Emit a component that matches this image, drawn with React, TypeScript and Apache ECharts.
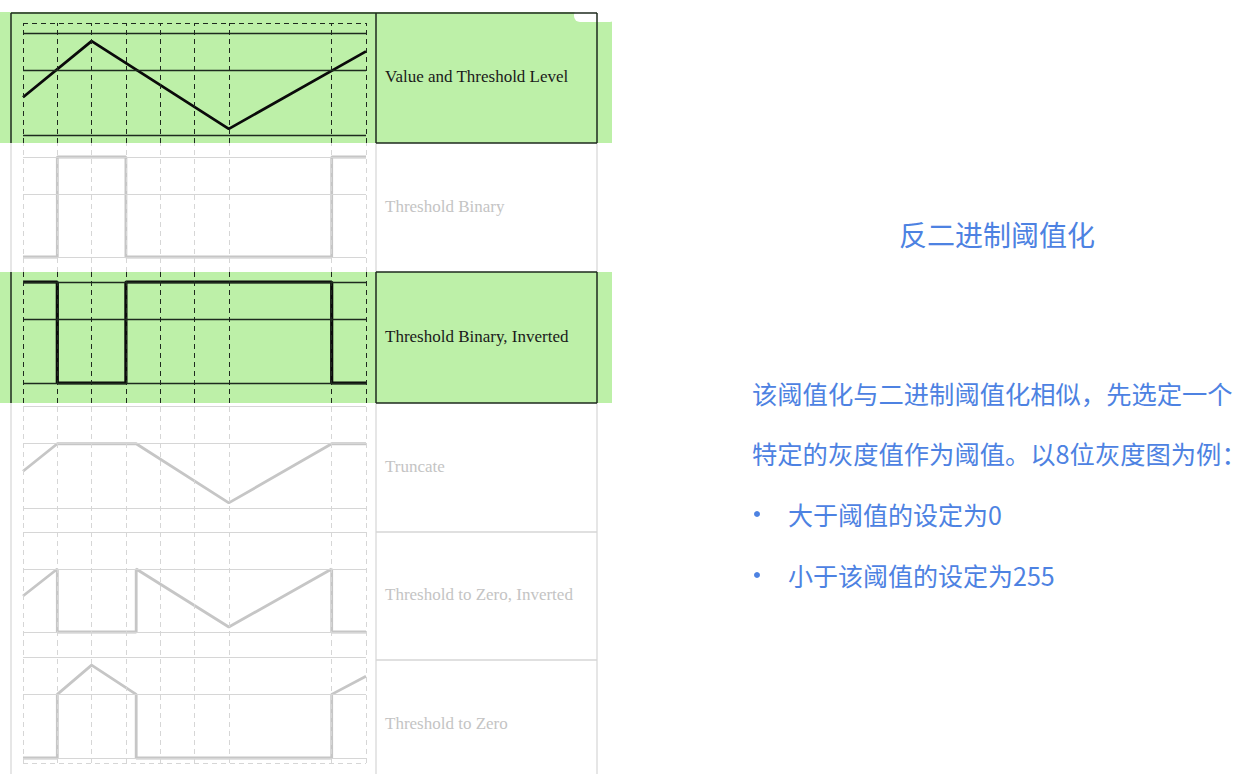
import React, { useEffect, useRef } from "react";
import * as echarts from "echarts";

// ---- data ----
const xTicks = [0, 1, 2, 3, 4, 5, 6, 9, 10];
const levelLines = [0, 63, 100];
const valueLevel = [[0, 37], [2, 92], [6, 6], [10, 82]];
const thresholdBinary = [[0, 0], [1, 0], [1, 100], [3, 100], [3, 0], [9, 0], [9, 100], [10, 100]];
const binaryInverted = [[0, 100], [1, 100], [1, 0], [3, 0], [3, 100], [9, 100], [9, 0], [10, 0]];
const truncate = [[0, 36], [1, 63], [3.3, 63], [6, 5], [9, 63], [10, 63]];
const toZeroInverted = [[0, 36], [1, 63], [1, 0], [3.3, 0], [3.3, 63], [6, 5], [9, 63], [9, 0], [10, 0]];
const toZero = [[0, 0], [1, 0], [1, 63], [2, 92], [3.3, 63], [3.3, 0], [9, 0], [9, 63], [10, 81]];
const rowLabels = [
  "Value and Threshold Level",
  "Threshold Binary",
  "Threshold Binary, Inverted",
  "Truncate",
  "Threshold to Zero, Inverted",
  "Threshold to Zero",
];
const rowSeries = [valueLevel, thresholdBinary, binaryInverted, truncate, toZeroInverted, toZero];
const highlighted = [true, false, true, false, false, false];
const titleText = "反二进制阈值化";
const paragraph = ["该阈值化与二进制阈值化相似，先选定一个", "特定的灰度值作为阈值。以8位灰度图为例："];
const bullets = ["大于阈值的设定为0", "小于该阈值的设定为255"];

// ---- layout (pixels) ----
const bands = [
  { top: 23, bottom: 143, p100: 33, p0: 135 },
  { top: 143, bottom: 272, p100: 157, p0: 257 },
  { top: 272, bottom: 403, p100: 282, p0: 383 },
  { top: 403, bottom: 520, p100: 406, p0: 508 },
  { top: 520, bottom: 645, p100: 532, p0: 632 },
  { top: 645, bottom: 763, p100: 657, p0: 758 },
];
const tableRows = [
  [13, 143],
  [143, 272],
  [272, 403],
  [403, 532],
  [532, 660],
  [660, 800],
];
const GREEN = "#bdf0a8";
const DARK = "#1e2a1e";
const LIGHT = "#d6d6d6";
const BLUE = "#4d82e2";

export default function App() {
  const ref = useRef<HTMLDivElement>(null);
  useEffect(() => {
    if (!ref.current) return;
    const chart = echarts.init(ref.current, null, { renderer: "svg" });

    const grids: any[] = [];
    const xAxes: any[] = [];
    const yAxes: any[] = [];
    const series: any[] = [];

    bands.forEach((b, i) => {
      const span = b.p0 - b.p100;
      const yMin = -((b.bottom - b.p0) / span) * 100;
      const yMax = 100 + ((b.p100 - b.top) / span) * 100;
      grids.push({ left: 23, right: 1246 - 366, top: b.top, height: b.bottom - b.top });
      xAxes.push({
        type: "value", gridIndex: i, min: 0, max: 10,
        axisLine: { show: false }, axisTick: { show: false }, axisLabel: { show: false }, splitLine: { show: false },
      });
      yAxes.push({
        type: "value", gridIndex: i, min: yMin, max: yMax,
        axisLine: { show: false }, axisTick: { show: false }, axisLabel: { show: false }, splitLine: { show: false },
      });
      const hi = highlighted[i];
      const lineColor = hi ? DARK : LIGHT;
      const mlData: any[] = [];
      xTicks.forEach((x) => mlData.push({ xAxis: x, lineStyle: { type: [5, 4], color: lineColor, width: 1 } }));
      levelLines.forEach((y) => mlData.push({ yAxis: y, lineStyle: { type: "solid", color: lineColor, width: hi ? 1.3 : 1.2 } }));
      if (i === 0) mlData.push({ yAxis: yMax, lineStyle: { type: [5, 4], color: DARK, width: 1.2 } });
      if (i === bands.length - 1) mlData.push({ yAxis: yMin, lineStyle: { type: [5, 4], color: LIGHT, width: 1.2 } });
      series.push({
        type: "line",
        xAxisIndex: i,
        yAxisIndex: i,
        data: rowSeries[i],
        showSymbol: false,
        symbol: "none",
        silent: true,
        lineStyle: { color: hi ? "#0a0a0a" : "#c6c6c6", width: i === 2 ? 3.2 : 2.8 },
        markLine: {
          silent: true,
          symbol: ["none", "none"],
          label: { show: false },
          animation: false,
          data: mlData,
        },
      });
    });

    const graphic: any[] = [];
    // green highlight bands
    graphic.push({ type: "rect", z: -10, shape: { x: 0, y: 12, width: 612, height: 131 }, style: { fill: GREEN } });
    graphic.push({ type: "rect", z: -10, shape: { x: 0, y: 272, width: 612, height: 131 }, style: { fill: GREEN } });
    graphic.push({ type: "rect", z: -9, shape: { x: 574, y: 9, width: 42, height: 13, r: 6 }, style: { fill: "#ffffff" } });
    // table borders
    tableRows.forEach(([t, b], i) => {
      const c = highlighted[i] ? DARK : LIGHT;
      const w = highlighted[i] ? 1.5 : 1.2;
      graphic.push({ type: "line", z: -5, shape: { x1: 11, y1: t, x2: 11, y2: b }, style: { stroke: c, lineWidth: w } });
      graphic.push({ type: "line", z: -5, shape: { x1: 376, y1: t, x2: 376, y2: b }, style: { stroke: c, lineWidth: w } });
      graphic.push({ type: "line", z: -5, shape: { x1: 597, y1: t, x2: 597, y2: b }, style: { stroke: c, lineWidth: w } });
    });
    tableRows.forEach(([t, b], i) => {
      const c = highlighted[i] || (i > 0 && highlighted[i - 1]) ? DARK : LIGHT;
      graphic.push({ type: "line", z: -4, shape: { x1: i === 0 ? 11 : 376, y1: t, x2: 597, y2: t }, style: { stroke: c, lineWidth: 1.5 } });
      graphic.push({
        type: "text", z: 5, left: 385, top: (t + Math.min(b, 790)) / 2 - 10,
        style: {
          text: rowLabels[i], fill: highlighted[i] ? "#1a1a1a" : "#c4c4c4",
          font: "17px 'Liberation Serif', 'DejaVu Serif', serif",
        },
      });
    });
    // right-hand explanatory text
    graphic.push({
      type: "text", z: 5, x: 997, y: 234,
      style: { text: titleText, fill: BLUE, font: "28px 'Noto Sans CJK SC'", align: "center", verticalAlign: "middle" },
    });
    paragraph.forEach((p, i) => {
      graphic.push({
        type: "text", z: 5, x: 752, y: 393 + i * 60,
        style: { text: p, fill: BLUE, font: "25.3px 'Noto Sans CJK SC'", verticalAlign: "middle" },
      });
    });
    bullets.forEach((p, i) => {
      graphic.push({
        type: "circle", z: 5, shape: { cx: 757, cy: 514 + i * 61, r: 3 }, style: { fill: BLUE },
      });
      graphic.push({
        type: "text", z: 5, x: 788, y: 514 + i * 61,
        style: { text: p, fill: BLUE, font: "25px 'Noto Sans CJK SC'", verticalAlign: "middle" },
      });
    });

    chart.setOption({
      animation: false,
      backgroundColor: "#ffffff",
      grid: grids,
      xAxis: xAxes,
      yAxis: yAxes,
      series,
      graphic,
    });
    return () => chart.dispose();
  }, []);
  return <div ref={ref} style={{ position: "fixed", left: 0, top: 0, width: 1246, height: 774 }} />;
}
